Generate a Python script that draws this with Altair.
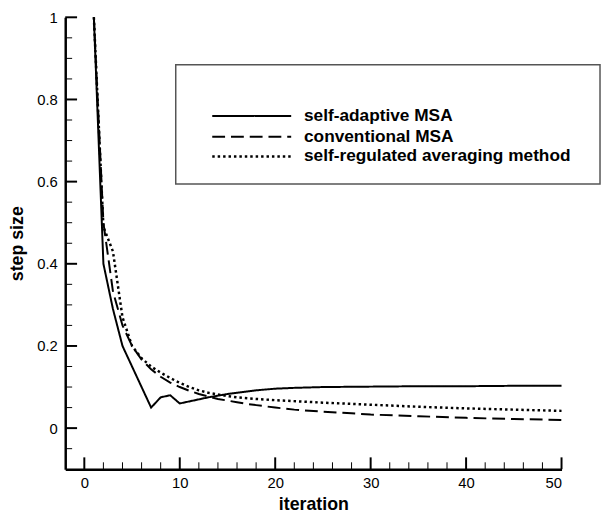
import altair as alt
import pandas as pd

# ---- data ----
series_names = ["self-adaptive MSA", "conventional MSA", "self-regulated averaging method"]

sa_iter = [1, 2, 3, 4, 5, 6, 7, 8, 9, 10, 11, 12, 13, 14, 15, 16, 17, 18, 19, 20, 22, 25, 30, 35, 40, 45, 50]
sa_step = [1.0, 0.40, 0.29, 0.20, 0.15, 0.10, 0.05, 0.075, 0.08, 0.06, 0.065, 0.07, 0.075, 0.079, 0.083,
           0.086, 0.089, 0.092, 0.094, 0.096, 0.098, 0.100, 0.101, 0.102, 0.102, 0.103, 0.103]

cm_iter = [1, 2, 3, 4, 5, 6, 7, 8, 9, 10, 11, 12, 13, 14, 15, 16, 17, 18, 19, 20, 22, 25, 28, 30, 35, 40, 45, 50]
cm_step = [1.0, 0.5, 0.333, 0.25, 0.2, 0.167, 0.143, 0.125, 0.111, 0.1, 0.091, 0.083, 0.077, 0.071, 0.067,
           0.063, 0.059, 0.056, 0.053, 0.05, 0.045, 0.04, 0.036, 0.033, 0.029, 0.025, 0.022, 0.02]

sr_iter = [1, 2, 3, 4, 5, 6, 7, 8, 9, 10, 11, 12, 13, 14, 15, 16, 18, 20, 25, 30, 35, 40, 45, 50]
sr_step = [1.0, 0.49, 0.43, 0.27, 0.20, 0.17, 0.15, 0.135, 0.122, 0.11, 0.10, 0.092, 0.086, 0.082, 0.078,
           0.075, 0.071, 0.068, 0.062, 0.057, 0.052, 0.048, 0.045, 0.042]

x_major = [0, 10, 20, 30, 40, 50]
x_minor = [2, 4, 6, 8, 12, 14, 16, 18, 22, 24, 26, 28, 32, 34, 36, 38, 42, 44, 46, 48]
y_major = [0, 0.2, 0.4, 0.6, 0.8, 1.0]
y_minor = [-0.05, 0.05, 0.1, 0.15, 0.25, 0.3, 0.35, 0.45, 0.5, 0.55, 0.65, 0.7, 0.75, 0.85, 0.9, 0.95]

# ---- styling ----
W, H = 503, 458
FONT = "Liberation Sans"
dashes = [[1, 0], [13, 6], [2.5, 3]]
widths = [2, 2, 2.5]

xs = alt.Scale(domain=[-2, 50], nice=False, zero=False)
ys = alt.Scale(domain=[-0.1, 1.0], nice=False, zero=False)

x_axis = alt.Axis(
    values=x_major, ticks=False, grid=False, title="iteration",
    domainColor="black", domainWidth=2.5, labelFont=FONT, labelFontSize=15,
    labelColor="black", labelPadding=7, titleFont=FONT, titleFontSize=18,
    titleFontWeight="bold", titleColor="black", titlePadding=5)
y_axis = alt.Axis(
    values=y_major, format="~g", ticks=False, grid=False, title="step size",
    domainColor="black", domainWidth=2.5, labelFont=FONT, labelFontSize=15,
    labelColor="black", labelPadding=8, titleFont=FONT, titleFontSize=18,
    titleFontWeight="bold", titleColor="black", titlePadding=10)

def X(field="iteration"):
    return alt.X(f"{field}:Q", scale=xs, axis=x_axis, title="iteration")

def Y(field="step"):
    return alt.Y(f"{field}:Q", scale=ys, axis=y_axis, title="step size")

layers = []
series = [(sa_iter, sa_step), (cm_iter, cm_step), (sr_iter, sr_step)]
for i, (it, st) in enumerate(series):
    df = pd.DataFrame({"iteration": it, "step": st})
    layers.append(
        alt.Chart(df).mark_line(color="black", strokeWidth=widths[i], strokeDash=dashes[i],
                                strokeCap="butt", strokeJoin="miter")
        .encode(x=X(), y=Y())
    )

# inward ticks (major and minor)
def xticks(vals, length, width):
    return alt.Chart(pd.DataFrame({"iteration": vals})).mark_rule(color="black", strokeWidth=width).encode(
        x=X(), y=alt.value(H), y2=alt.value(H - length))

def yticks(vals, length, width):
    return alt.Chart(pd.DataFrame({"step": vals})).mark_rule(color="black", strokeWidth=width).encode(
        y=Y(), x=alt.value(0), x2=alt.value(length))

layers += [xticks(x_major, 12, 2), xticks(x_minor, 7, 1), yticks(y_major, 12, 2), yticks(y_minor, 7, 1)]

# legend box
one = pd.DataFrame({"k": [0]})
layers.append(
    alt.Chart(one).mark_rect(fill="white", stroke="#555555", strokeWidth=1.5).encode(
        x=alt.value(112), x2=alt.value(542), y=alt.value(48), y2=alt.value(169))
)
rows = [100, 121, 141]
for i, name in enumerate(series_names):
    layers.append(
        alt.Chart(one).mark_rule(color="black", strokeWidth=widths[i], strokeDash=dashes[i], strokeCap="butt")
        .encode(x=alt.value(149), x2=alt.value(229), y=alt.value(rows[i]))
    )
    layers.append(
        alt.Chart(pd.DataFrame({"label": [name]})).mark_text(
            align="left", baseline="middle", font=FONT, fontSize=17.5, fontWeight="bold", color="black")
        .encode(text="label:N", x=alt.value(242), y=alt.value(rows[i]))
    )

chart = alt.layer(*layers).properties(
    width=W, height=H,
    autosize=alt.AutoSizeParams(type="none"),
    padding={"left": 58, "top": 6, "right": 40, "bottom": 44},
).configure_view(stroke=None)

chart.save("out.html", embed_options={"renderer": "svg", "actions": False})
